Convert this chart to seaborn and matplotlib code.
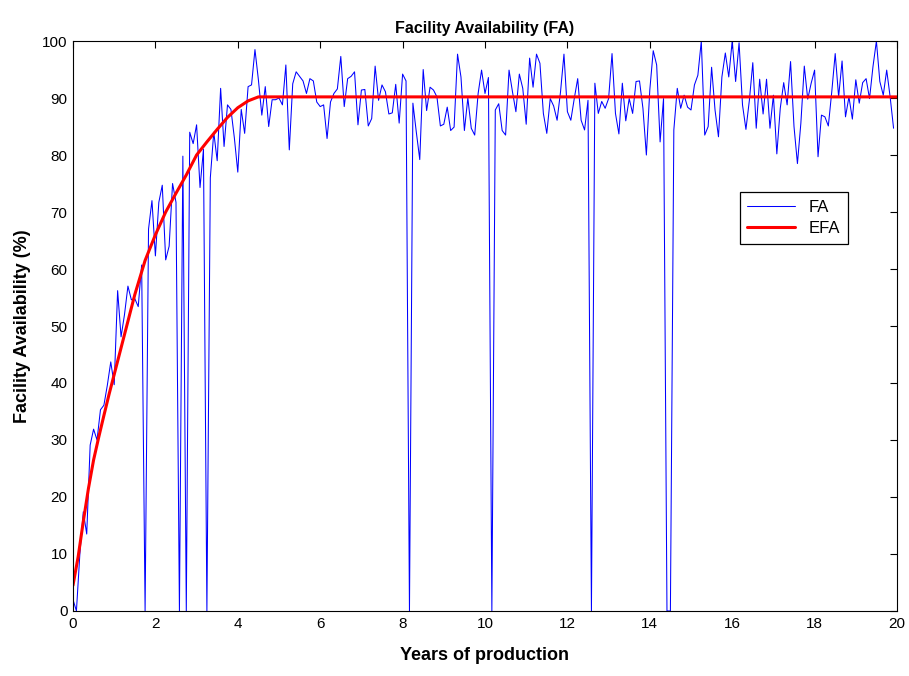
import numpy as np
import pandas as pd
import seaborn as sns
import matplotlib
matplotlib.use("Agg")
import matplotlib.pyplot as plt

# monthly facility availability readings (%), one value per month from year 0
fa_values = [
    2, 0, 10, 17.4, 13.5, 29.1, 31.9, 30, 35.3, 36.1, 39.6, 43.7,
    39.7, 56.2, 48.1, 52, 57, 54.6, 54.8, 53.4, 60.7, 0, 67, 72,
    62.3, 71.7, 74.7, 61.6, 64, 75, 71.7, 0, 79.8, 0, 84, 82,
    85.3, 74.3, 81, 0, 76, 84, 79, 91.7, 81.5, 88.8, 88, 83,
    77, 88, 83.8, 92, 92.3, 98.5, 93.2, 87, 92, 85, 89.7, 89.7,
    90, 88.8, 95.8, 80.9, 92.5, 94.6, 93.8, 93, 90.8, 93.4, 93, 89.3,
    88.5, 88.8, 82.9, 89.3, 90.8, 91.6, 97.3, 88.5, 93.4, 93.8, 94.6, 85.3,
    91.4, 91.5, 85.1, 86.4, 95.6, 89.6, 92.3, 91.1, 87.2, 87.4, 92.4, 85.6,
    94.2, 93.0, 0, 89.1, 84, 79.2, 95.0, 87.8, 91.9, 91.4, 90.2, 85.1,
    85.4, 88.4, 84.3, 84.9, 97.7, 93.7, 84.3, 90, 84.7, 83.5, 90.8, 94.9,
    90.8, 93.6, 0, 87.9, 89, 84.3, 83.5, 94.9, 91.1, 87.6, 94.2, 91.7,
    85.4, 97, 91.9, 97.7, 96.1, 87.3, 83.8, 89.9, 88.6, 86.1, 91.1, 97.7,
    87.6, 86.1, 89.9, 93.4, 86.1, 84.4, 89.6, 0, 92.6, 87.3, 89.4, 88.2,
    89.9, 97.8, 87.3, 83.7, 92.6, 86, 89.9, 87.3, 92.9, 93.0, 88.2, 80,
    91.4, 98.3, 95.8, 82.3, 89.9, 0, 0, 84.4, 91.7, 88.2, 90.5, 88.4,
    87.9, 92.3, 94, 100, 83.5, 85, 95.4, 87.9, 83.2, 93.7, 97.9, 93.7,
    100, 92.9, 99.7, 88.8, 84.5, 89.6, 96.2, 84.7, 93.3, 87.2, 93.3, 84.7,
    90.5, 80.2, 88.2, 92.7, 88.8, 96.4, 85, 78.5, 85.6, 95.6, 89.8, 92.6,
    94.9, 79.7, 87, 86.7, 85.1, 91.1, 97.8, 90.2, 96.5, 86.7, 90.2, 86.3,
    93.2, 89.1, 92.7, 93.4, 89.9, 95.5, 100, 92.9, 90.5, 94.9, 90.2, 84.7,
]
fa_years = np.arange(len(fa_values)) / 12

# expected facility availability curve (break points)
efa_years = [0, 0.125, 0.25, 0.375, 0.5, 0.625, 0.75, 0.875, 1.0, 1.25, 1.5,
             1.75, 2.0, 2.25, 2.5, 2.75, 3.0, 3.25, 3.5, 3.75, 4.0, 4.25, 4.5, 20]
efa_values = [4.5, 9.5, 15.7, 21.5, 26.5, 30.5, 34.3, 38, 41.5, 48.5, 55.5,
              61.5, 66, 70, 73.3, 76.5, 80, 82.3, 84.5, 86.6, 88.3, 89.5, 90.2, 90.2]

fa = pd.DataFrame({"year": fa_years, "value": fa_values})
efa = pd.DataFrame({"year": efa_years, "value": efa_values})

sns.set_style("white")
plt.rcParams["font.family"] = ["Liberation Sans", "DejaVu Sans"]
plt.rcParams["text.color"] = "black"
plt.rcParams["axes.labelcolor"] = "black"

fig = plt.figure(figsize=(9.09, 6.76), dpi=100)
ax = fig.add_axes([0.0803, 0.0962, 0.9065, 0.8431])

sns.lineplot(data=fa, x="year", y="value", color="#0000ff", linewidth=0.75,
             estimator=None, ax=ax)
sns.lineplot(data=efa, x="year", y="value", color="#ff0000", linewidth=2.2,
             estimator=None, ax=ax)

ax.set_xlim(0, 20)
ax.set_ylim(0, 100)
ax.set_xticks(range(0, 21, 2))
ax.set_yticks(range(0, 101, 10))
ax.tick_params(direction="in", length=5, width=0.8, top=True, right=True,
               labelsize=11, colors="black", pad=4)
for s in ax.spines.values():
    s.set_visible(True)
    s.set_color("black")
    s.set_linewidth(0.8)

ax.set_title("Facility Availability (FA)", fontsize=11.5, fontweight="bold",
             pad=6, color="black")
ax.set_xlabel("Years of production", fontsize=13, fontweight="bold", labelpad=12)
ax.set_ylabel("Facility Availability (%)", fontsize=13, fontweight="bold", labelpad=8)

lines = ax.get_lines()
leg = ax.legend(handles=[lines[0], lines[1]], labels=["FA", "EFA"],
                loc="upper left", bbox_to_anchor=(0.809, 0.735), fontsize=12,
                frameon=True, fancybox=False, handlelength=2.9, borderpad=0.45,
                labelspacing=0.4, handletextpad=0.8, borderaxespad=0)
leg.get_frame().set_edgecolor("black")
leg.get_frame().set_linewidth(0.9)
leg.get_frame().set_alpha(1)

fig.savefig("out.png", dpi=100, facecolor="white")
